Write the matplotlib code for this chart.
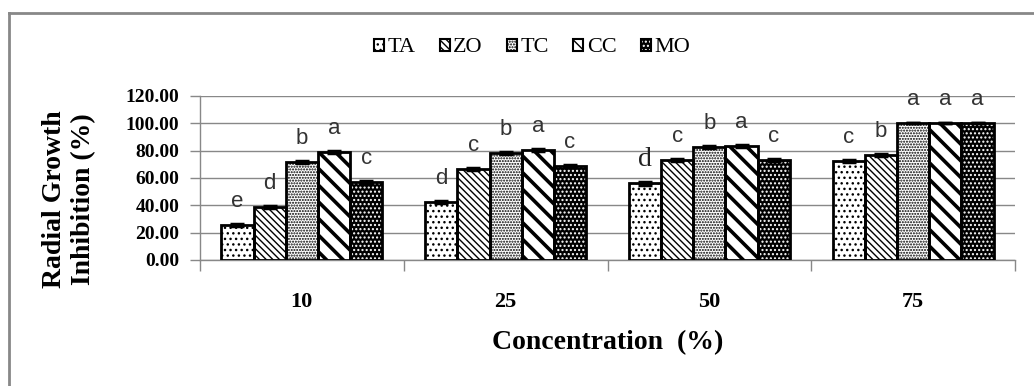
import matplotlib
matplotlib.use('Agg')
import matplotlib.pyplot as plt
import numpy as np
from matplotlib import font_manager
from matplotlib.lines import Line2D
from matplotlib.patches import Rectangle
from matplotlib.legend_handler import HandlerTuple

categories = ['10', '25', '50', '75']
series = ['TA', 'ZO', 'TC', 'CC', 'MO']
TA = [25.5, 42.3, 56.0, 72.3]
ZO = [39.0, 66.8, 73.0, 76.8]
TC = [71.8, 78.2, 82.8, 100.0]
CC = [79.2, 80.5, 83.6, 100.0]
MO = [56.8, 69.0, 73.4, 100.0]
err_TA = [0.8, 0.8, 0.8, 0.8]
err_ZO = [0.6, 0.6, 0.6, 0.6]
err_TC = [0.6, 0.7, 0.6, 0.0]
err_CC = [0.7, 0.8, 0.8, 0.0]
err_MO = [0.9, 0.8, 0.7, 0.0]
let_TA = ['e', 'd', 'd', 'c']
let_ZO = ['d', 'c', 'c', 'b']
let_TC = ['b', 'b', 'b', 'a']
let_CC = ['a', 'a', 'a', 'a']
let_MO = ['c', 'c', 'c', 'a']
yticks = [0, 20, 40, 60, 80, 100, 120]

values = [TA, ZO, TC, CC, MO]
errors = [err_TA, err_ZO, err_TC, err_CC, err_MO]
letters = [let_TA, let_ZO, let_TC, let_CC, let_MO]

avail = {f.name for f in font_manager.fontManager.ttflist}
serif = 'Liberation Serif' if 'Liberation Serif' in avail else 'DejaVu Serif'
narrow = 'Liberation Sans Narrow' if 'Liberation Sans Narrow' in avail else 'Liberation Sans'

W, H = 1034, 386
fig = plt.figure(figsize=(W / 100, H / 100), dpi=100)
ax = fig.add_axes([200 / W, 1 - 260 / H, 815 / W, 164 / H])

x = np.arange(len(categories))
bw = 0.158
# face color, hatch color, hatch, hatch linewidth
styles = [
    ('white', 'black', '...', 1.0),
    ('white', 'black', '\\\\\\\\\\', 1.0),
    ('white', 'black', '......', 1.0),
    ('white', 'black', '\\\\', 2.6),
    ('black', 'white', '....', 1.0),
]


def hatched_patch(fc, hc, hatch, hlw):
    with plt.rc_context({'hatch.linewidth': hlw}):
        p = Rectangle((0, 0), 1, 1, facecolor=fc, edgecolor=hc, hatch=hatch,
                      linewidth=0)
    if hasattr(p, 'set_hatch_linewidth'):
        p.set_hatch_linewidth(hlw)
    return p


handles = []
for i, (vals, errs, st) in enumerate(zip(values, errors, styles)):
    fc, hc, hatch, hlw = st
    pos = x + (i - 2) * bw
    with plt.rc_context({'hatch.linewidth': hlw}):
        face = ax.bar(pos, vals, bw, color=fc, edgecolor=hc, hatch=hatch,
                      linewidth=0, zorder=2)
    for p in face:
        if hasattr(p, 'set_hatch_linewidth'):
            p.set_hatch_linewidth(hlw)
    ax.bar(pos, vals, bw, fill=False, edgecolor='black', linewidth=2, zorder=3)
    ax.errorbar(pos, vals, yerr=errs, fmt='none', ecolor='black',
                elinewidth=2.5, capsize=5, capthick=2.5, zorder=4)
    handles.append((hatched_patch(fc, hc, hatch, min(hlw, 1.2)),
                    Rectangle((0, 0), 1, 1, fill=False, edgecolor='black',
                              linewidth=1.5)))
    for xp, v, l in zip(pos, vals, letters[i]):
        if i == 0 and 1.5 < xp < 2.5:
            ax.annotate(l, (xp, v), xytext=(0, 17), textcoords='offset points',
                        ha='center', va='center', fontsize=20, family=serif,
                        color='#222222')
        else:
            ax.annotate(l, (xp, v), xytext=(0, 17), textcoords='offset points',
                        ha='center', va='center', fontsize=16, family=narrow,
                        color='#333333')

ax.set_ylim(0, 120)
ax.set_xlim(-0.5, len(categories) - 0.5)
ax.set_yticks(yticks)
ax.set_yticklabels([f'{t:.2f}' for t in yticks], family=serif,
                   fontweight='bold', fontsize=14)
ax.set_xticks(x)
ax.set_xticklabels(categories, family=serif, fontweight='bold', fontsize=16)
ax.set_xticks(np.arange(-0.5, len(categories)), minor=True)
ax.tick_params(axis='x', which='major', length=0, pad=23)
ax.tick_params(axis='x', which='minor', length=8, color='#888888', width=1)
ax.tick_params(axis='y', length=7, color='#888888', width=1, pad=8)
ax.grid(axis='y', color='#888888', linewidth=1, zorder=0)
ax.set_axisbelow(True)
for s in ['top', 'right']:
    ax.spines[s].set_visible(False)
for s in ['left', 'bottom']:
    ax.spines[s].set_color('#888888')
    ax.spines[s].set_linewidth(1)

ax.set_xlabel('Concentration  (%)', family=serif, fontweight='bold',
              fontsize=20)
ax.xaxis.set_label_coords(0.5, (260 - 343) / 164)
ax.xaxis.label.set_va('center')

ax.set_ylabel('Radial Growth\nInhibition (%)', family=serif, fontweight='bold',
              fontsize=20, linespacing=1.2)
ax.yaxis.set_label_coords((69 - 200) / 815, (260 - 199) / 164)
ax.yaxis.label.set_va('center')

fig.legend(handles=handles, labels=series, loc='center',
           bbox_to_anchor=(532 / W, 1 - 48 / H), ncol=5, frameon=False,
           prop={'family': serif, 'size': 16}, handlelength=0.45,
           handleheight=0.45, handletextpad=0.15, columnspacing=1.1,
           handler_map={tuple: HandlerTuple(ndivide=1, pad=0)})

fig.add_artist(Line2D([9 / W, 9 / W], [0, 1 - 13 / H], transform=fig.transFigure,
                      color='#888888', lw=2))
fig.add_artist(Line2D([9 / W, 1.0], [1 - 13 / H, 1 - 13 / H],
                      transform=fig.transFigure, color='#888888', lw=2))

fig.savefig('out.png', dpi=100)
